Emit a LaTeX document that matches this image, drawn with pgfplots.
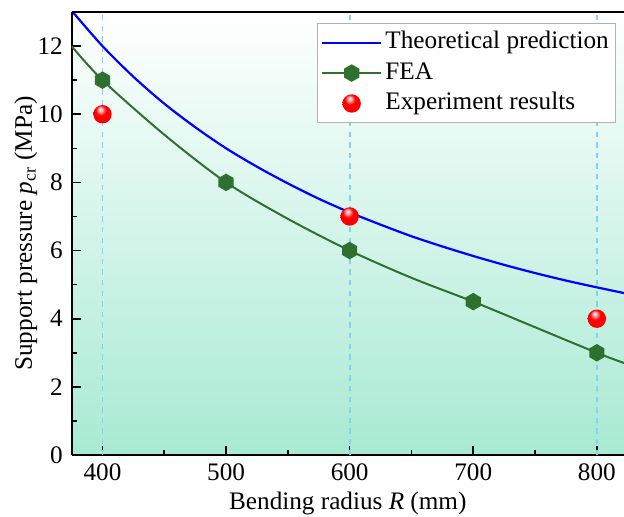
\documentclass[border=0pt]{standalone}
\usepackage{fontspec}
\setmainfont{Liberation Serif}
\usepackage{pgfplots}
\pgfplotsset{compat=1.18}
\definecolor{feagreen}{RGB}{46,112,46}
\definecolor{mint}{RGB}{168,234,211}
\definecolor{dashblue}{RGB}{135,208,245}
\newcommand\ff{\fontsize{12.6}{15}\selectfont}
\pgfdeclareplotmark{hexa*}{%
  \pgfpathmoveto{\pgfqpointpolar{90}{\pgfplotmarksize}}%
  \pgfpathlineto{\pgfqpointpolar{150}{\pgfplotmarksize}}%
  \pgfpathlineto{\pgfqpointpolar{210}{\pgfplotmarksize}}%
  \pgfpathlineto{\pgfqpointpolar{270}{\pgfplotmarksize}}%
  \pgfpathlineto{\pgfqpointpolar{330}{\pgfplotmarksize}}%
  \pgfpathlineto{\pgfqpointpolar{30}{\pgfplotmarksize}}%
  \pgfpathclose\pgfusepathqfillstroke}
\pgfdeclareradialshading{redballshade}{\pgfpoint{-6bp}{14bp}}{%
  color(0bp)=(white); color(5bp)=(red!30!white); color(14bp)=(red); color(44bp)=(red!95!black); color(60bp)=(red!75!black)}
\pgfdeclareplotmark{redball}{%
  \pgfpathcircle{\pgfpointorigin}{\pgfplotmarksize}%
  \pgfshadepath{redballshade}{0}\pgfusepath{}}
\pgfplotsset{
  leglinea/.style={legend image code/.code={\draw[##1] (0pt,0pt) -- (29.5pt,0pt);}},
  leglineb/.style={legend image code/.code={\draw[##1, mark repeat=2, mark phase=2] plot coordinates {(0pt,0pt) (14.75pt,0pt) (29.5pt,0pt)};}},
  legmark/.style={legend image code/.code={\draw[##1] plot coordinates {(14.75pt,0pt)};}},
}
\begin{document}
\ff
\begin{tikzpicture}
\begin{axis}[
  scale only axis, width=276.2pt, height=221.5pt,
  xmin=375, xmax=822, ymin=0, ymax=13,
  axis lines*=left,
  axis line style={-, line width=1pt, black},
  axis background/.style={top color=white, bottom color=mint},
  xtick={400,500,...,800}, minor x tick num=1,
  ytick={0,2,...,12}, minor y tick num=1,
  tick align=inside, major tick length=4.5pt, minor tick length=2.5pt,
  tick style={black, line width=0.8pt},
  extra x ticks={400,600,800}, extra x tick labels={},
  extra x tick style={grid=major, major grid style={dashblue, line width=0.9pt, dash pattern=on 2.7pt off 2.6pt}, major tick length=0pt},
  xticklabel={\pgfmathprintnumber[assume math mode=true, fixed, precision=0]{\tick}},
  yticklabel={\pgfmathprintnumber[assume math mode=true, fixed, precision=0]{\tick}},
  tick label style={font=\ff},
  label style={font=\ff},
  xlabel={Bending radius \textit{R} (mm)},
  ylabel={Support pressure \textit{p}\textsubscript{cr} (MPa)},
  xlabel style={at={(axis description cs:0.5,-0.1219)}, anchor=base},
  ylabel style={at={(axis description cs:-0.0717,0.5)}, anchor=base},
  legend cell align=left,
  legend style={at={(rel axis cs:0.986,0.975)}, anchor=north east, draw=gray!60, fill=white, font=\ff,
    nodes={text height=9pt, text depth=3pt, inner sep=1.6pt}, inner xsep=2pt, inner ysep=2pt},
]
\addplot[blue, line width=1.1pt, smooth, leglinea]
coordinates {(375,13.04)(400,12.00)(425,11.10)(450,10.31)(475,9.62)(500,9.00)(525,8.46)(550,7.97)(575,7.52)(600,7.12)(625,6.76)(650,6.42)(675,6.12)(700,5.84)(725,5.58)(750,5.34)(775,5.12)(800,4.92)(825,4.73)};
\addlegendentry{Theoretical prediction}
\addplot[feagreen, line width=1pt, smooth, mark=hexa*, mark size=3.8pt, mark options={fill=feagreen, solid},
  mark indices={2,4,6,8,10}, leglineb]
coordinates {(375,12.0)(400,11)(450,9.4)(500,8)(550,6.93)(600,6)(650,5.2)(700,4.5)(750,3.75)(800,3)(822,2.7)};
\addlegendentry{FEA}
\addplot[only marks, mark=redball, mark size=4.6pt, legmark]
coordinates {(400,10)(600,7)(800,4)};
\addlegendentry{Experiment results}
\end{axis}
\draw[line width=1pt] (current axis.north west) -- (current axis.north east);
\pgfresetboundingbox
\path[use as bounding box] (-35.8pt,-30.5pt) rectangle (276.2pt,227.5pt);
\end{tikzpicture}
\end{document}
